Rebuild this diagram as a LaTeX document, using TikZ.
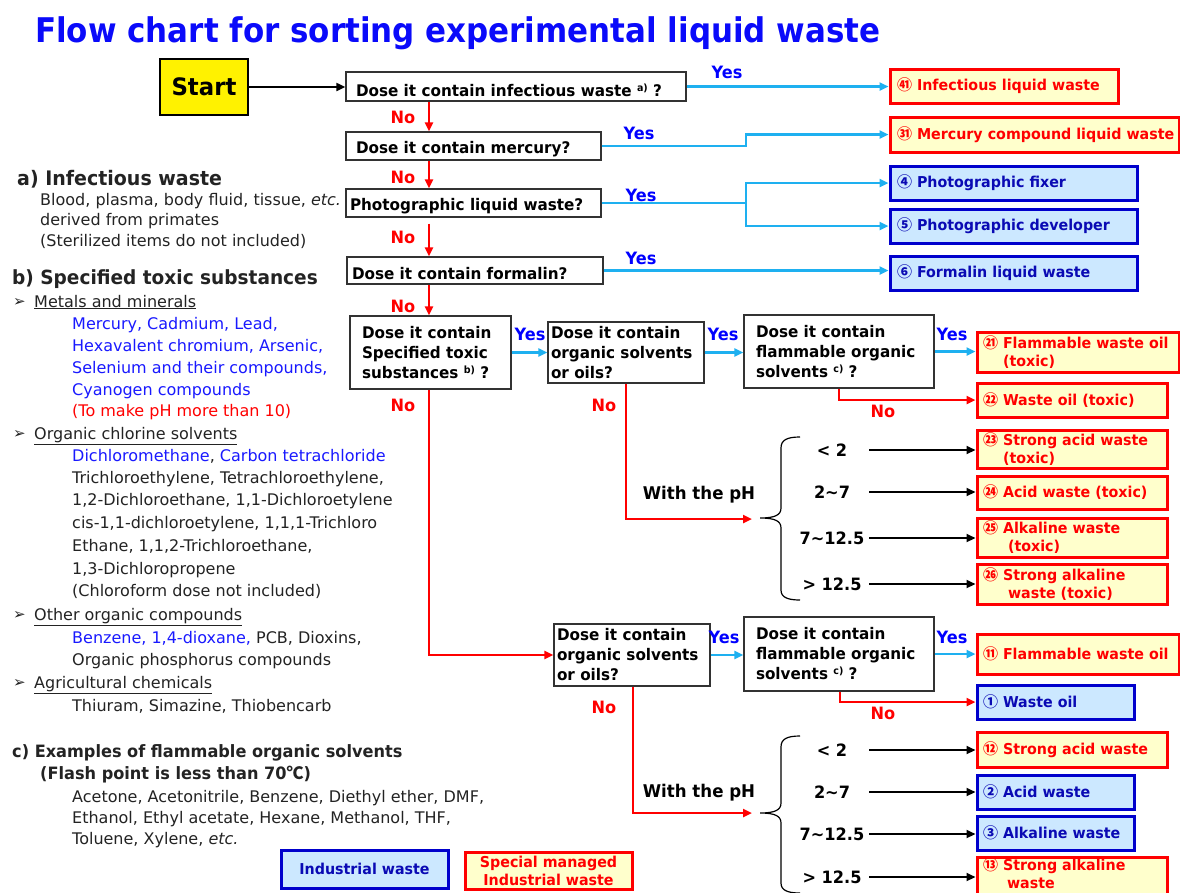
\documentclass[tikz,border=0pt]{standalone}
\usepackage{fontspec}
\setmainfont{DejaVu Sans}[BoldFeatures={FakeStretch=0.95}]
\newfontfamily\cjk{Noto Sans CJK JP}
\newfontfamily\titlefont{DejaVu Sans}[FakeStretch=0.91]
\usetikzlibrary{arrows.meta}
\definecolor{tblue}{RGB}{10,10,250}
\definecolor{yblue}{RGB}{0,0,255}
\definecolor{cyanl}{RGB}{30,176,240}
\definecolor{ryel}{RGB}{255,255,204}
\definecolor{lblue}{RGB}{204,232,255}
\definecolor{dblue}{RGB}{0,0,204}
\definecolor{btext}{RGB}{10,10,180}
\definecolor{qgray}{RGB}{50,50,50}
\definecolor{txt}{RGB}{35,35,35}
\definecolor{bl}{RGB}{25,25,255}
\newcommand\fs[2]{\fontsize{#1}{#2}\selectfont}
\newcommand\Bx[8]{%
 \pgfmathsetmacro\bxw{#4-#2}%
 \pgfmathsetmacro\bxh{#5-#3}%
 \pgfmathsetmacro\bxt{#4-#2-2*#6}%
 \pgfmathsetmacro\bxx{(#2+#4)/2}%
 \pgfmathsetmacro\bxy{(#3+#5)/2}%
 \node[#7, inner xsep=#6pt, minimum width=\bxw pt, minimum height=\bxh pt, text width=\bxt pt] (#1) at (\bxx,\bxy) {#8};}
\newcommand\Ln[4]{\node[lt,#4] (#1) at (#2) {#3};}
\newcommand\low[2]{\raisebox{#1}[\height][\depth]{\mbox{#2}}}
\newcommand\sups[1]{\raisebox{5pt}{\fs{10}{10}#1}}
\newcommand\bul{\makebox[21pt][l]{\fs{15}{16}\raisebox{0.5pt}{➢}}}
\tikzset{
 qbox/.style={draw=qgray, line width=1.3pt, fill=white, inner ysep=0pt, align=left, text=black, font=\fs{16}{20}\bfseries},
 redbox/.style={draw=red, line width=3pt, fill=ryel, inner ysep=0pt, align=left, text=red, font=\fs{15}{18}\bfseries},
 bluebox/.style={draw=dblue, line width=3pt, fill=lblue, inner ysep=0pt, align=left, text=btext, font=\fs{15}{18}\bfseries},
 startbox/.style={draw=black, line width=2.5pt, fill=yellow, inner ysep=0pt, align=center, font=\fs{24}{28}\bfseries},
 tip/.style={-{Triangle[length=9pt,width=8pt]}},
 yesarr/.style={draw=cyanl, line width=2.5pt, tip},
 yesline/.style={draw=cyanl, line width=2.5pt},
 noarr/.style={draw=red, line width=2.5pt, tip},
 blkarr/.style={draw=black, line width=2pt, tip},
 yeslab/.style={text=yblue, font=\fs{17}{20}\bfseries, inner sep=0pt},
 nolab/.style={text=red, font=\fs{17}{20}\bfseries, inner sep=0pt},
 phlab/.style={font=\fs{17}{20}\bfseries, inner sep=0pt, minimum width=74pt, text=black},
 phtxt/.style={font=\fs{17.5}{20}\bfseries, inner sep=0pt, text=black},
 lt/.style={anchor=base west, inner sep=0pt, font=\fs{16}{20}, text=txt},
 bracep/.style={draw=black, line width=1.2pt},
}
\begin{document}
\begin{tikzpicture}[x=1pt,y=-1pt]
\useasboundingbox (0,0) rectangle (1180,892);
\clip (0,0) rectangle (1180,892);
\fill[white] (0,0) rectangle (1180,892);

% title
\node[anchor=base west, inner sep=0pt, text=tblue, font=\titlefont\bfseries\fs{34}{40}] (title) at (35,42) {Flow chart for sorting experimental liquid waste};

% left notes
\Ln{ha}{17,185}{a) Infectious waste}{font=\fs{20}{24}\bfseries}
\Ln{a1}{40,205}{Blood, plasma, body fluid, tissue, \textit{etc.}}{}
\Ln{a2}{40,225}{derived from primates}{}
\Ln{a3}{40,246}{(Sterilized items do not included)}{}
\Ln{hb}{12,284}{b) Specified toxic substances}{font=\fs{19.5}{24}\bfseries}
\Ln{m0}{13,307}{\bul\underline{Metals and minerals}}{}
\Ln{m1}{72,329}{Mercury, Cadmium, Lead,}{text=bl}
\Ln{m2}{72,351}{Hexavalent chromium, Arsenic,}{text=bl}
\Ln{m3}{72,373}{Selenium and their compounds,}{text=bl}
\Ln{m4}{72,395}{Cyanogen compounds}{text=bl}
\Ln{m5}{72,416}{(To make pH more than 10)}{text=red}
\Ln{o0}{13,439}{\bul\underline{Organic chlorine solvents}}{}
\Ln{o1}{72,461}{{\color{bl}Dichloromethane}, {\color{bl}Carbon tetrachloride}}{}
\Ln{o2}{72,483}{Trichloroethylene, Tetrachloroethylene,}{}
\Ln{o3}{72,505}{1,2-Dichloroethane, 1,1-Dichloroetylene}{}
\Ln{o4}{72,528}{cis-1,1-dichloroetylene, 1,1,1-Trichloro}{}
\Ln{o5}{72,551}{Ethane, 1,1,2-Trichloroethane,}{}
\Ln{o6}{72,574}{1,3-Dichloropropene}{}
\Ln{o7}{72,596}{(Chloroform dose not included)}{}
\Ln{x0}{13,620}{\bul\underline{Other organic compounds}}{}
\Ln{x1}{72,643}{{\color{bl}Benzene, 1,4-dioxane,} PCB, Dioxins,}{}
\Ln{x2}{72,665}{Organic phosphorus compounds}{}
\Ln{g0}{13,688}{\bul\underline{Agricultural chemicals}}{}
\Ln{g1}{72,711}{Thiuram, Simazine, Thiobencarb}{}
\Ln{hc}{12,757}{c) Examples of flammable organic solvents}{font=\fs{17}{20}\bfseries}
\Ln{c0}{40,779}{(Flash point is less than 70{\cjk ℃})}{font=\fs{17}{20}\bfseries}
\Ln{c1}{72,802}{Acetone, Acetonitrile, Benzene, Diethyl ether, DMF,}{}
\Ln{c2}{72,823}{Ethanol, Ethyl acetate, Hexane, Methanol, THF,}{}
\Ln{c3}{72,844}{Toluene, Xylene, \textit{etc.}}{}

% start and questions
\Bx{start}{160}{59}{248}{115}{0}{startbox}{Start}
\Bx{q1}{346}{72}{686}{101}{10}{qbox}{\low{-4pt}{Dose it contain infectious waste \sups{a)} ?}}
\Bx{q2}{346}{132}{601}{160}{10}{qbox}{\low{-3pt}{Dose it contain mercury?}}
\Bx{q3}{346}{189}{601}{217}{4}{qbox}{\low{-3pt}{Photographic liquid waste?}}
\Bx{q4}{347}{257}{603}{284}{5}{qbox}{\low{-3pt}{Dose it contain formalin?}}
\Bx{q5}{350}{316}{511}{389}{12}{qbox}{\mbox{Dose it contain}\\\mbox{Specified toxic}\\\mbox{substances \sups{b)} ?}}
\Bx{q6}{548}{322}{704}{383}{3}{qbox}{\mbox{Dose it contain}\\\mbox{organic solvents}\\\mbox{or oils?}}
\Bx{q7}{744}{315}{934}{388}{12}{qbox}{\mbox{Dose it contain}\\\mbox{flammable organic}\\\mbox{solvents \sups{c)} ?}}
\Bx{q8}{554}{624}{710}{686}{3}{qbox}{\mbox{Dose it contain}\\\mbox{organic solvents}\\\mbox{or oils?}}
\Bx{q9}{744}{617}{934}{691}{12}{qbox}{\mbox{Dose it contain}\\\mbox{flammable organic}\\\mbox{solvents \sups{c)} ?}}

% results
\Bx{r41}{890}{69}{1118}{103}{7}{redbox}{\mbox{{\cjk ㊶} Infectious liquid waste}}
\Bx{r31}{890}{117}{1179}{152}{7}{redbox}{\mbox{{\cjk ㉛} Mercury compound liquid waste}}
\Bx{fix}{890}{166}{1137}{200}{7}{bluebox}{\mbox{{\cjk ④} Photographic fixer}}
\Bx{dev}{890}{209}{1137}{243}{7}{bluebox}{\mbox{{\cjk ⑤} Photographic developer}}
\Bx{form}{890}{256}{1137}{290}{7}{bluebox}{\mbox{{\cjk ⑥} Formalin liquid waste}}
\Bx{r21}{977}{332}{1179}{372}{6}{redbox}{\mbox{{\cjk ㉑} Flammable waste oil}\\\mbox{\hspace*{20pt}(toxic)}}
\Bx{r22}{977}{383}{1167}{417}{6}{redbox}{\mbox{{\cjk ㉒} Waste oil (toxic)}}
\Bx{r23}{977}{430}{1167}{468}{6}{redbox}{\mbox{{\cjk ㉓} Strong acid waste}\\\mbox{\hspace*{20pt}(toxic)}}
\Bx{r24}{977}{476}{1167}{509}{6}{redbox}{\mbox{{\cjk ㉔} Acid waste (toxic)}}
\Bx{r25}{977}{518}{1167}{557}{6}{redbox}{\mbox{{\cjk ㉕} Alkaline waste}\\\mbox{\hspace*{25pt}(toxic)}}
\Bx{r26}{977}{564}{1167}{604}{6}{redbox}{\mbox{{\cjk ㉖} Strong alkaline}\\\mbox{\hspace*{25pt}waste (toxic)}}
\Bx{r11}{977}{634}{1179}{674}{6}{redbox}{\mbox{{\cjk ⑪} Flammable waste oil}}
\Bx{r1}{977}{685}{1134}{719}{6}{bluebox}{\mbox{{\cjk ①} Waste oil}}
\Bx{r12}{977}{732}{1167}{767}{6}{redbox}{\mbox{{\cjk ⑫} Strong acid waste}}
\Bx{r2}{977}{775}{1134}{809}{6}{bluebox}{\mbox{{\cjk ②} Acid waste}}
\Bx{r3}{977}{816}{1134}{850}{6}{bluebox}{\mbox{{\cjk ③} Alkaline waste}}
\Bx{r13}{977}{857}{1167}{895}{6}{redbox}{\raisebox{3pt}[\height][\depth]{\parbox[b]{170pt}{\mbox{{\cjk ⑬} Strong alkaline}\\\mbox{\hspace*{24pt}waste}}}}

% legend
\Bx{legi}{281}{850}{448}{888}{4}{bluebox,align=center}{Industrial waste}
\Bx{legs}{465}{852}{632}{889}{4}{redbox,align=center}{Special managed\\Industrial waste}

% helper coordinates
\coordinate (nx) at (429,0);
\coordinate (bx) at (746,0);
\coordinate (n6) at (626,0);
\coordinate (n7) at (839,0);
\coordinate (n8) at (633,0);
\coordinate (n9) at (840,0);
\coordinate (ph1) at (752,519);
\coordinate (ph2) at (752,813);

% connectors
\draw[blkarr] (start.east) -- (start.east -| q1.west);
\draw[yesarr] (q1.east) -- (q1.east -| r41.west);
\draw[yesarr] (q2.east) -- (q2.east -| bx) |- (r31.west);
\draw[yesline] (q3.east) -- (q3.east -| bx) coordinate (b3);
\draw[yesarr] (b3) |- (fix.west);
\draw[yesarr] (b3) |- (dev.west);
\draw[yesarr] (q4.east) -- (q4.east -| form.west);
\draw[noarr] (q1.south -| nx) -- (q2.north -| nx);
\draw[noarr] (q2.south -| nx) -- (q3.north -| nx);
\draw[noarr] ([yshift=-6pt]q3.south -| nx) -- (q4.north -| nx);
\draw[noarr] (q4.south -| nx) -- (q5.north -| nx);
\draw[yesarr] (q5.east) -- (q5.east -| q6.west);
\draw[yesarr] (q6.east) -- (q6.east -| q7.west);
\draw[yesarr] (q7.east) -- (q7.east -| r21.west);
\draw[noarr] (q7.south -| n7) |- (r22.west);
\draw[noarr] (q6.south -| n6) |- (ph1);
\draw[noarr] (q5.south -| nx) |- (q8.west);
\draw[yesarr] (q8.east) -- (q8.east -| q9.west);
\draw[yesarr] (q9.east) -- (q9.east -| r11.west);
\draw[noarr] (q9.south -| n9) |- (r1.west);
\draw[noarr] (q8.south -| n8) |- (ph2);

% braces
\draw[bracep] (800,437) .. controls (787,437) and (781,440) .. (781,448) -- (781,508) .. controls (781,515) and (775,518) .. (760,518) .. controls (775,518) and (781,521) .. (781,528) -- (781,590) .. controls (781,597) and (787,600) .. (800,600);
\draw[bracep] (800,736) .. controls (787,736) and (781,739) .. (781,747) -- (781,803) .. controls (781,810) and (775,813) .. (760,813) .. controls (775,813) and (781,816) .. (781,823) -- (781,883) .. controls (781,890) and (787,893) .. (800,893);

% pH labels and arrows
\node[phlab] (pa1) at (832,450) {< 2};
\node[phlab] (pa2) at (832,492) {2\textasciitilde 7};
\node[phlab] (pa3) at (832,538) {7\textasciitilde 12.5};
\node[phlab] (pa4) at (832,584) {> 12.5};
\node[phlab] (pb1) at (832,750) {< 2};
\node[phlab] (pb2) at (832,792) {2\textasciitilde 7};
\node[phlab] (pb3) at (832,834) {7\textasciitilde 12.5};
\node[phlab] (pb4) at (832,877) {> 12.5};
\draw[blkarr] (pa1.east) -- (pa1.east -| r23.west);
\draw[blkarr] (pa2.east) -- (pa2.east -| r24.west);
\draw[blkarr] (pa3.east) -- (pa3.east -| r25.west);
\draw[blkarr] (pa4.east) -- (pa4.east -| r26.west);
\draw[blkarr] (pb1.east) -- (pb1.east -| r12.west);
\draw[blkarr] (pb2.east) -- (pb2.east -| r2.west);
\draw[blkarr] (pb3.east) -- (pb3.east -| r3.west);
\draw[blkarr] (pb4.east) -- (pb4.east -| r13.west);
\node[phtxt] (wph1) at (699,495) {With the pH};
\node[phtxt] (wph2) at (699,793) {With the pH};

% Yes / No labels
\node[yeslab] (y1) at (727,72) {Yes};
\node[yeslab] (y2) at (639,133) {Yes};
\node[yeslab] (y3) at (641,195) {Yes};
\node[yeslab] (y4) at (641,258) {Yes};
\node[yeslab] (y5) at (530,334) {Yes};
\node[yeslab] (y6) at (723,334) {Yes};
\node[yeslab] (y7) at (952,334) {Yes};
\node[yeslab] (y8) at (724,637) {Yes};
\node[yeslab] (y9) at (952,637) {Yes};
\node[nolab] (no1) at (403,117) {No};
\node[nolab] (no2) at (403,177) {No};
\node[nolab] (no3) at (403,237) {No};
\node[nolab] (no4) at (403,306) {No};
\node[nolab] (no5) at (403,405) {No};
\node[nolab] (no6) at (604,405) {No};
\node[nolab] (no7) at (883,411) {No};
\node[nolab] (no8) at (604,707) {No};
\node[nolab] (no9) at (883,713) {No};
\end{tikzpicture}
\end{document}
